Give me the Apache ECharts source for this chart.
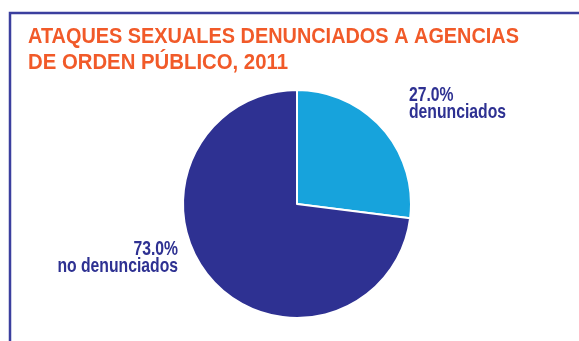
<!DOCTYPE html>
<html>
<head>
<meta charset="utf-8">
<script src="https://cdn.jsdelivr.net/npm/echarts@6/dist/echarts.min.js"></script>
<style>
  html, body { margin: 0; padding: 0; background: #fff; }
  #chart { width: 579px; height: 341px; }
</style>
</head>
<body>
<div id="chart"></div>
<script>
// Sexual assaults reported to law enforcement, 2011
const titleLines = ['ATAQUES SEXUALES DENUNCIADOS A AGENCIAS', 'DE ORDEN PÚBLICO, 2011'];
const categories = ['denunciados', 'no denunciados'];
const shares = [27.0, 73.0];
const sliceColors = ['#17a3dc', '#2e3192'];

const NAVY = '#2e3192';
const ORANGE = '#f15a29';
const FAMILY = '"Liberation Sans", Arial, sans-serif';
const TITLE_FONT = 'bold 22px ' + FAMILY;
const LABEL_FONT = 'bold 21px ' + FAMILY;

// a condensed face is not available, so the bold sans is fitted horizontally
const measureCtx = document.createElement('canvas').getContext('2d');
function textWidth(str, font) {
  measureCtx.font = font;
  return measureCtx.measureText(str).width;
}
const titleWidths = [491, 260];
const titleCenters = [37, 63.3];
const labelSqueeze = 97 / textWidth(categories[0], LABEL_FONT);

const titleGraphics = titleLines.map((line, i) => ({
  type: 'text',
  silent: true,
  x: 28,
  y: titleCenters[i],
  scaleX: titleWidths[i] / textWidth(line, TITLE_FONT),
  style: {
    text: line,
    font: TITLE_FONT,
    fill: ORANGE,
    align: 'left',
    verticalAlign: 'middle'
  }
}));

// label anchor for each slice: upper right for the small slice, left for the large one
const labelSpots = [
  { x: 409, y: 87, align: 'left' },
  { x: 178, y: 241, align: 'right' }
];

const labelGraphics = categories.map((name, i) => ({
  type: 'text',
  silent: true,
  x: labelSpots[i].x,
  y: labelSpots[i].y,
  scaleX: labelSqueeze,
  style: {
    text: shares[i].toFixed(1) + '%\n' + name,
    font: LABEL_FONT,
    fill: NAVY,
    align: labelSpots[i].align,
    verticalAlign: 'top',
    lineHeight: 17
  }
}));

const chart = echarts.init(document.getElementById('chart'), null, { renderer: 'canvas' });

chart.setOption({
  animation: false,
  backgroundColor: '#ffffff',
  graphic: [
    {
      type: 'rect',
      silent: true,
      shape: { x: 10, y: 13, width: 700, height: 400 },
      style: { fill: 'none', stroke: '#3b3f9e', lineWidth: 2.5 }
    },
    ...titleGraphics,
    ...labelGraphics
  ],
  series: [
    {
      type: 'pie',
      center: [297, 204],
      radius: 114,
      startAngle: 90,
      clockwise: true,
      data: categories.map((name, i) => ({
        name,
        value: shares[i],
        itemStyle: { color: sliceColors[i] }
      })),
      itemStyle: { borderColor: '#ffffff', borderWidth: 2 },
      label: { show: false },
      labelLine: { show: false }
    }
  ]
});
</script>
</body>
</html>
